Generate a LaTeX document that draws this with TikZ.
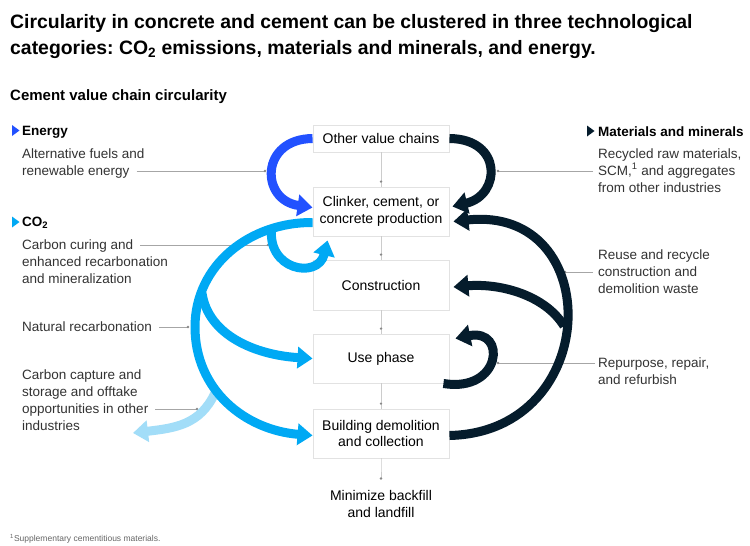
\documentclass[tikz,border=0pt]{standalone}
\usepackage{fontspec}
\setmainfont{Liberation Sans}
\usetikzlibrary{arrows.meta}
\definecolor{navy}{HTML}{051C2C}
\definecolor{ebl}{HTML}{2251FF}
\definecolor{cyanb}{HTML}{00A9F4}
\definecolor{lcyan}{HTML}{A2DDF8}
\definecolor{txt}{HTML}{333333}
\definecolor{boxln}{HTML}{E2E2E2}
\definecolor{connln}{HTML}{CCCCCC}
\definecolor{dotc}{HTML}{888888}
\newcommand\myTitleFont{\fontsize{19.4}{26}\selectfont\bfseries}
\newcommand\mySubFont{\fontsize{15}{18}\selectfont\bfseries}
\newcommand\myHeadFont{\fontsize{13.5}{17}\selectfont\bfseries}
\newcommand\myLabFont{\fontsize{13.5}{17}\selectfont}
\newcommand\myBoxFont{\fontsize{14}{16.5}\selectfont}
\newcommand\myNoteFont{\fontsize{8.5}{10}\selectfont}
\frenchspacing
\begin{document}
\begin{tikzpicture}[x=1pt,y=-1pt,
  box/.style={draw=boxln, line width=0.9pt, fill=white, minimum width=136pt, inner sep=0pt, align=center, font=\myBoxFont, text=black},
  ttl/.style={font=\myTitleFont, text=black, anchor=base west, inner sep=0pt},
  hd/.style={font=\myHeadFont, text=black, anchor=base west, inner sep=0pt},
  lbl/.style={font=\myLabFont, text=txt, anchor=base west, inner sep=0pt},
  conn/.style={draw=connln, line width=0.7pt},
  dotm/.style={circle, fill=dotc, inner sep=0pt, minimum size=2.6pt},
  leader/.style={draw=gray!70, line width=0.6pt},
  fat/.style={line width=9pt, -{Triangle[length=15pt,width=21pt]}},
]
\useasboundingbox (0,0) rectangle (750,546);
\fill[white] (0,0) rectangle (750,546);

% titles
\node[ttl] (t1) at (10,28) {Circularity in concrete and cement can be clustered in three technological};
\node[ttl] (t2) at (10,54) {categories: CO\textsubscript{2} emissions, materials and minerals, and energy.};
\node[font=\mySubFont, text=black, anchor=base west, inner sep=0pt] (sub) at (10,100) {Cement value chain circularity};

% boxes
\node[box, minimum height=27pt] (ovc) at (381,138.5) {Other value chains};
\node[box, minimum height=49pt] (clk) at (381,211.5) {Clinker, cement, or\\concrete production};
\node[box, minimum height=50pt] (con) at (381,285) {Construction};
\node[box, minimum height=49pt] (use) at (381,358.5) {Use phase};
\node[box, minimum height=49pt] (dem) at (381,433.5) {Building demolition\\and collection};
\node[font=\fontsize{14}{17}\selectfont, align=center, inner sep=0pt] (mini) at (381,503.5) {Minimize backfill\\and landfill};

% connectors between boxes
\draw[conn] (ovc.south) -- (clk.north) node[dotm, pos=1, yshift=5pt] {};
\draw[conn] (clk.south) -- (con.north) node[dotm, pos=1, yshift=5pt] {};
\draw[conn] (con.south) -- (use.north) node[dotm, pos=1, yshift=5pt] {};
\draw[conn] (use.south) -- (dem.north) node[dotm, pos=1, yshift=5pt] {};
\draw[conn] (dem.south) -- ([yshift=-8pt]dem.south) coordinate (mtop) -- ++(0,12) node[dotm, pos=1] {};

% headings with triangles
\fill[ebl] (12,125) -- (19.5,130.5) -- (12,136) -- cycle;
\node[hd] (hen) at (22,135) {Energy};
\fill[cyanb] (12,216.5) -- (19.5,222) -- (12,227.5) -- cycle;
\node[hd] (hco) at (22,226.5) {CO\textsubscript{2}};
\fill[navy] (587,125.5) -- (594.5,131) -- (587,136.5) -- cycle;
\node[hd] (hmat) at (598,136) {Materials and minerals};

% left labels
\node[lbl] (en1) at (22,158) {Alternative fuels and};
\node[lbl] (en2) at (22,175) {renewable energy};
\node[lbl] (cc1) at (22,249.5) {Carbon curing and};
\node[lbl] (cc2) at (22,266.5) {enhanced recarbonation};
\node[lbl] (cc3) at (22,283.5) {and mineralization};
\node[lbl] (nr) at (22,331.5) {Natural recarbonation};
\node[lbl] (cs1) at (22,379.5) {Carbon capture and};
\node[lbl] (cs2) at (22,396.5) {storage and offtake};
\node[lbl] (cs3) at (22,413.5) {opportunities in other};
\node[lbl] (cs4) at (22,430.5) {industries};

% right labels
\node[lbl] (rm1) at (598,158) {Recycled raw materials,};
\node[lbl] (rm2) at (598,175) {SCM,\textsuperscript{1} and aggregates};
\node[lbl] (rm3) at (598,192) {from other industries};
\node[lbl] (rr1) at (598,259.5) {Reuse and recycle};
\node[lbl] (rr2) at (598,276.5) {construction and};
\node[lbl] (rr3) at (598,293.5) {demolition waste};
\node[lbl] (rp1) at (598,367.5) {Repurpose, repair,};
\node[lbl] (rp2) at (598,384.5) {and refurbish};

% leader end points
\coordinate (dEn) at (265,171);
\coordinate (dCc) at (268,245);
\coordinate (dNr) at (188,327);
\coordinate (dCs) at (197,409);
\coordinate (dRm) at (498,171);
\coordinate (dRr) at (565,272);
\coordinate (dRp) at (498,363);

\draw[leader] ([xshift=7pt]en2.east |- dEn) -- (dEn) node[dotm] {};
\draw[leader] ([xshift=7pt]cc1.east |- dCc) -- (dCc) node[dotm] {};
\draw[leader] ([xshift=7pt]nr.east |- dNr) -- (dNr) node[dotm] {};
\draw[leader] ([xshift=7pt]cs3.east |- dCs) -- (dCs) node[dotm] {};
\draw[leader] ([xshift=-5pt]rm2.west |- dRm) -- (dRm) node[dotm] {};
\draw[leader] ([xshift=-5pt]rr2.west |- dRr) -- (dRr) node[dotm] {};
\draw[leader] ([xshift=-3pt]rp1.west |- dRp) -- (dRp) node[dotm] {};

% free ends of branching arrows
\coordinate (cb1) at (202,293);
\coordinate (cl1) at (272,226);
\coordinate (cl2) at (215,393);
\coordinate (ccs) at (133,433);
\coordinate (nb) at (564,326);

% energy arrow
\draw[fat, ebl] (ovc.west) .. controls (260,139) and (260,200) .. ([yshift=4pt]clk.west);
% materials top arrow
\draw[fat, navy] (ovc.east) .. controls (503,139) and (501,195) .. ([shift={(3pt,5pt)}]clk.east);

% CO2 arrows
\draw[fat, lcyan] (cl2) .. controls (200,425) and (175,428) .. (ccs);
\draw[fat, cyanb] (cl1) .. controls (265,270) and (318,280) .. ([shift={(15pt,-4pt)}]clk.south west);
\draw[fat, cyanb] (cb1) .. controls (208,335) and (255,355) .. (use.west);
\draw[fat, cyanb] ([yshift=-11pt]clk.west) .. controls (250,222) and (195,265) .. (195,327) .. controls (195,390) and (245,430) .. ([yshift=-2pt]dem.west);

% navy recycle arrows
\draw[fat, navy] (nb) .. controls (545,295) and (500,283) .. ([shift={(4pt,-2pt)}]con.east);
\draw[fat, navy] ([yshift=-2pt]dem.east) .. controls (603,432) and (606,205) .. ([shift={(4pt,-10pt)}]clk.east);
\draw[fat, navy] ([shift={(-6pt,-25pt)}]use.east) .. controls (502,393) and (507,328) .. ([shift={(6pt,20pt)}]use.east);

% footnote
\node[font=\myNoteFont, text=gray!80!black, anchor=base west, inner sep=0pt] (fn) at (10,541) {\textsuperscript{1}Supplementary cementitious materials.};
\end{tikzpicture}
\end{document}
